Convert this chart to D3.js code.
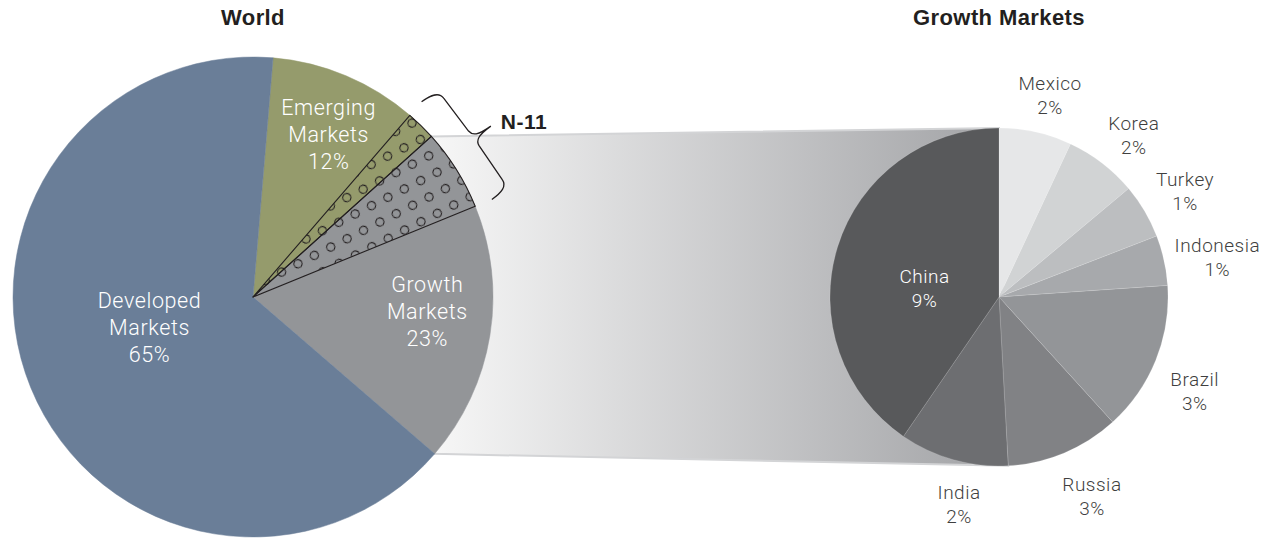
<!DOCTYPE html>
<html>
<head>
<meta charset="utf-8">
<script src="https://cdn.jsdelivr.net/npm/d3@7"></script>
<style>
body { margin: 0; background: #fff; }
text { font-family: Roboto, "Liberation Sans", sans-serif; }
.title { font-family: "Liberation Sans", Arial, sans-serif; font-weight: bold; fill: #231f20; }
</style>
</head>
<body>
<svg id="chart" width="1276" height="540"></svg>
<script>

// world market split, % of total
var worldCats = ["Emerging Markets", "Growth Markets", "Developed Markets"]
var worldValues = [12, 23, 65]
// N-11 countries that sit inside "Emerging Markets"
var emergingN11 = 2

// growth markets breakdown, % of world
var growthCats = ["Mexico", "Korea", "Turkey", "Indonesia", "Brazil", "Russia", "India", "China"]
var growthValues = [1.6, 1.6, 1.2, 1.1, 3.3, 2.5, 2.4, 9.3]
var n11Members = ["Mexico", "Korea", "Turkey", "Indonesia"]

var worldColors = {"Emerging Markets": "#959b6c", "Growth Markets": "#939598", "Developed Markets": "#6a7e98"}
var growthColors = ["#e6e7e8", "#d1d3d4", "#bcbec0", "#a7a9ac", "#939598", "#818285", "#6d6e71", "#58595b"]

var svg = d3.select("#chart")
var defs = svg.append("defs")

var W = {cx: 253, cy: 297, r: 240}
var G = {cx: 999, cy: 297, r: 169}
var deg = Math.PI / 180

function pt(c, a, r) {
  return [c.cx + r * Math.sin(a), c.cy - r * Math.cos(a)]
}

// split emerging and growth into N-11 / non N-11 pieces
var growthN11 = d3.sum(growthCats, function(d, i) { return n11Members.indexOf(d) >= 0 ? growthValues[i] : 0 })
var worldPieces = [
  {cat: "Emerging Markets", n11: false, v: worldValues[0] - emergingN11},
  {cat: "Emerging Markets", n11: true, v: emergingN11},
  {cat: "Growth Markets", n11: true, v: growthN11},
  {cat: "Growth Markets", n11: false, v: worldValues[1] - growthN11},
  {cat: "Developed Markets", n11: false, v: worldValues[2]}
]

var start = 4.8 * deg
var worldArcs = d3.pie().sort(null).value(function(d) { return d.v })
  .startAngle(start).endAngle(start + 2 * Math.PI)(worldPieces)

var growthArcs = d3.pie().sort(null).value(function(d) { return d })
  .startAngle(0).endAngle(2 * Math.PI)(growthValues)

// gradient band joining the two pies
var growthStart = worldArcs[2].startAngle, growthEnd = worldArcs[3].endAngle
var bandTL = pt(W, growthStart, W.r), bandBL = pt(W, growthEnd, W.r)
var bandTR = pt(G, 0, G.r), bandBR = pt(G, growthArcs[6].startAngle, G.r)

var grad = defs.append("linearGradient").attr("id", "band")
  .attr("gradientUnits", "userSpaceOnUse")
  .attr("x1", bandTL[0]).attr("x2", G.cx).attr("y1", 0).attr("y2", 0)
grad.append("stop").attr("offset", 0).attr("stop-color", "#f7f7f7")
grad.append("stop").attr("offset", 1).attr("stop-color", "#a2a3a6")

svg.append("path")
  .attr("d", d3.line()([bandTL, bandTR, bandBR, bandBL]) + "Z")
  .attr("fill", "url(#band)")
  .attr("stroke", "#d3d4d6").attr("stroke-width", 2)

// dot pattern for N-11
var pat = defs.append("pattern").attr("id", "dots")
  .attr("patternUnits", "userSpaceOnUse").attr("width", 26).attr("height", 26)
  .attr("patternTransform", "rotate(18)")
pat.selectAll("circle").data([[6.5, 6.5], [19.5, 19.5]]).enter().append("circle")
  .attr("cx", function(d) { return d[0] }).attr("cy", function(d) { return d[1] })
  .attr("r", 4.1).attr("fill", "none").attr("stroke", "#231f20").attr("stroke-width", 1.1)

// world pie
var gW = svg.append("g").attr("transform", "translate(" + W.cx + "," + W.cy + ")")
var arcW = d3.arc().innerRadius(0).outerRadius(W.r)

gW.selectAll("path.slice").data(worldArcs).enter().append("path")
  .attr("class", "slice")
  .attr("d", arcW)
  .attr("fill", function(d) { return worldColors[d.data.cat] })
  .attr("stroke", function(d) { return worldColors[d.data.cat] })
  .attr("stroke-width", 0.5)

gW.selectAll("path.n11").data(worldArcs.filter(function(d) { return d.data.n11 })).enter().append("path")
  .attr("class", "n11")
  .attr("d", arcW)
  .attr("fill", "url(#dots)")
  .attr("stroke", "#231f20").attr("stroke-width", 1.1).attr("stroke-linejoin", "round")

// world labels: polar spot (deg, radius) for each category
var worldLabelPos = {"Emerging Markets": [25, 179], "Growth Markets": [95, 175], "Developed Markets": [253.4, 108]}
worldCats.forEach(function(c, i) {
  var p = worldLabelPos[c]
  var xy = pt({cx: 0, cy: 0}, p[0] * deg, p[1])
  var words = c.split(" ").concat([worldValues[i] + "%"])
  var t = gW.append("text")
    .attr("text-anchor", "middle")
    .attr("fill", "#fff")
    .style("font-size", "21.5px").style("font-weight", 300).style("letter-spacing", "0.6px")
  words.forEach(function(w, j) {
    t.append("tspan").attr("x", xy[0]).attr("y", xy[1] + (j - 1) * 27 + 7).text(w)
  })
})

// brace over the N-11 slices
var a1 = worldArcs[1].startAngle, a2 = worldArcs[2].endAngle
var e1 = pt(W, a1, 258), e2 = pt(W, a2, 258)
var L = Math.hypot(e2[0] - e1[0], e2[1] - e1[1])
var ux = (e2[0] - e1[0]) / L, uy = (e2[1] - e1[1]) / L
var nx = uy, ny = -ux   // points away from the pie centre
function loc(u, v) { return [e1[0] + u * ux + v * nx, e1[1] + u * uy + v * ny] }
var h = L / 2
var bp = d3.path()
var p0 = loc(0, 0); bp.moveTo(p0[0], p0[1])
function cub(a, b, c) { var A = loc(a[0], a[1]), B = loc(b[0], b[1]), C = loc(c[0], c[1]); bp.bezierCurveTo(A[0], A[1], B[0], B[1], C[0], C[1]) }
function lin(a) { var A = loc(a[0], a[1]); bp.lineTo(A[0], A[1]) }
cub([0, 12], [2, 20], [10, 20])
lin([h - 9, 21])
cub([h - 3, 21.5], [h, 26], [h, 42])
cub([h, 26], [h + 3, 21.5], [h + 9, 21])
lin([L - 10, 20])
cub([L - 2, 20], [L, 12], [L, 0])
svg.append("path").attr("d", bp.toString())
  .attr("fill", "none").attr("stroke", "#231f20").attr("stroke-width", 1.3)

var tip = loc(h, 42)
svg.append("text").attr("class", "title")
  .attr("x", tip[0] + 10).attr("y", tip[1] + 3)
  .style("font-size", "21px").style("letter-spacing", "0.5px")
  .text("N-11")

// growth markets pie
var gG = svg.append("g").attr("transform", "translate(" + G.cx + "," + G.cy + ")")
var arcG = d3.arc().innerRadius(0).outerRadius(G.r)
gG.selectAll("path").data(growthArcs).enter().append("path")
  .attr("d", arcG)
  .attr("fill", function(d, i) { return growthColors[i] })
  .attr("stroke", "#ffffff").attr("stroke-opacity", 0.25).attr("stroke-width", 0.6)

// label spots (deg, radius) around the growth pie
var growthLabelPos = {Mexico: [14.2, 208], Korea: [39.7, 211], Turkey: [60.4, 214], Indonesia: [79.6, 222],
  Brazil: [115.6, 217], Russia: [155, 220], India: [190.9, 211], China: [276.8, 75]}
gG.selectAll("text").data(growthArcs).enter().append("text")
  .attr("text-anchor", "middle")
  .attr("fill", function(d, i) { return growthCats[i] == "China" ? "#fff" : "#3f3f40" })
  .style("font-size", "19px").style("font-weight", 300).style("letter-spacing", "0.5px")
  .each(function(d, i) {
    var p = growthLabelPos[growthCats[i]]
    var c = pt({cx: 0, cy: 0}, p[0] * deg, p[1])
    var t = d3.select(this)
    t.append("tspan").attr("x", c[0]).attr("y", c[1] - 5).text(growthCats[i])
    t.append("tspan").attr("x", c[0]).attr("y", c[1] + 19).text(Math.round(growthValues[i]) + "%")
  })

// titles
svg.append("text").attr("class", "title").attr("x", W.cx).attr("y", 25)
  .attr("text-anchor", "middle").style("font-size", "22px").style("letter-spacing", "0.4px").text("World")
svg.append("text").attr("class", "title").attr("x", G.cx).attr("y", 25)
  .attr("text-anchor", "middle").style("font-size", "22px").style("letter-spacing", "0.4px").text("Growth Markets")

</script>
</body>
</html>
